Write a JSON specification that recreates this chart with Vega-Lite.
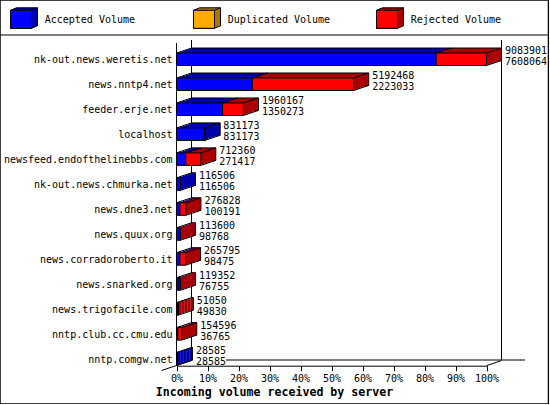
{
"$schema":"https://vega.github.io/schema/vega-lite/v6.json",
"width":548.5,"height":404,"autosize":"none","padding":0,
"background":"white",
"config":{"view":{"stroke":"black","strokeWidth":1.5},"text":{"font":"DejaVu Sans Mono","fontSize":10,"fill":"black"}},
"datasets":{
"servers":[
{"server":"nk-out.news.weretis.net","zero":0,"total":9083901,"accepted":7608064},
{"server":"news.nntp4.net","zero":0,"total":5192468,"accepted":2223033},
{"server":"feeder.erje.net","zero":0,"total":1960167,"accepted":1350273},
{"server":"localhost","zero":0,"total":831173,"accepted":831173},
{"server":"newsfeed.endofthelinebbs.com","zero":0,"total":712360,"accepted":271417},
{"server":"nk-out.news.chmurka.net","zero":0,"total":116506,"accepted":116506},
{"server":"news.dne3.net","zero":0,"total":276828,"accepted":100191},
{"server":"news.quux.org","zero":0,"total":113600,"accepted":98768},
{"server":"news.corradoroberto.it","zero":0,"total":265795,"accepted":98475},
{"server":"news.snarked.org","zero":0,"total":119352,"accepted":76755},
{"server":"news.trigofacile.com","zero":0,"total":51050,"accepted":49830},
{"server":"nntp.club.cc.cmu.edu","zero":0,"total":154596,"accepted":36765},
{"server":"nntp.comgw.net","zero":0,"total":28585,"accepted":28585}
],
"series":[{"series":"Accepted Volume"},{"series":"Duplicated Volume"},{"series":"Rejected Volume"}],
"one":[{"zero":0,"full":9083901}]
},
"resolve":{"scale":{"x":"independent"}},
"layer":[
{
"data":{"name":"servers"},
"encoding":{"y":{"field":"server","type":"nominal","sort":null,
 "scale":{"domain":["nk-out.news.weretis.net","news.nntp4.net","feeder.erje.net","localhost","newsfeed.endofthelinebbs.com","nk-out.news.chmurka.net","news.dne3.net","news.quux.org","news.corradoroberto.it","news.snarked.org","news.trigofacile.com","nntp.club.cc.cmu.edu","nntp.comgw.net"],"range":[46.8,371.3],"paddingInner":0,"paddingOuter":0},
 "axis":{"title":null,"orient":"left","offset":-176.5,"domain":false,"ticks":false,"labelFont":"DejaVu Sans Mono","labelFontSize":10,"labelColor":"black","labelPadding":4.5,"labelLimit":170,"labelOffset":0.7,"grid":false}}},
"layer":[
{"data":{"name":"one"},"mark":{"type":"rule","color":"black","strokeWidth":1,"xOffset":15},
 "encoding":{"y":{"value":40},"y2":{"value":360},
 "x":{"field":"zero","type":"quantitative","scale":{"domain":[0,9083901],"range":[176.5,486.5],"nice":false,"zero":true},
  "axis":{"title":"Incoming volume received by server","titleFont":"DejaVu Sans Mono","titleFontSize":11.6,"titleFontWeight":"bold","titleColor":"black","titleX":274,"titleY":26.5,"titleBaseline":"middle","titleAnchor":"middle","orient":"bottom","offset":-38.3,"values":[0,908390.1,1816780.2,2725170.3,3633560.4,4541950.5,5450340.6,6358730.7,7267120.8,8175510.9,9083901],"labelExpr":"round(datum.value/90839.01)+'%'","labelFont":"DejaVu Sans Mono","labelFontSize":10,"labelColor":"black","labelPadding":2.5,"labelOverlap":false,"labelFlush":false,"tickSize":5,"tickColor":"black","domainColor":"black","grid":false}}}},
{"data":{"name":"one"},"mark":{"type":"rule","color":"black","strokeWidth":1,"xOffset":15},"encoding":{"y":{"value":40},"y2":{"value":360},"x":{"field":"full","type":"quantitative"}}},
{"data":{"name":"one"},"mark":{"type":"rule","color":"black","strokeWidth":1},"encoding":{"y":{"value":43},"y2":{"value":365.7},"x":{"field":"zero","type":"quantitative"}}},
{"data":{"name":"one"},"mark":{"type":"rule","color":"black","strokeWidth":1},"encoding":{"y":{"value":35},"x":{"value":0},"x2":{"value":548}}},
{"data":{"name":"one"},"mark":{"type":"rule","color":"black","strokeWidth":1},"encoding":{"y":{"value":360},"x":{"value":226},"x2":{"value":525}}},
{"data":{"name":"one"},"mark":{"type":"rule","color":"black","strokeWidth":1},"encoding":{"x":{"value":161.5},"x2":{"value":191.5},"y":{"value":370.5},"y2":{"value":360.5}}},
{"data":{"name":"one"},"mark":{"type":"rule","color":"black","strokeWidth":1},"encoding":{"x":{"value":486.5},"x2":{"value":501.5},"y":{"value":365.7},"y2":{"value":360.5}}},

{"mark":{"type":"bar","height":12.5,"xOffset":15,"x2Offset":15,"yOffset":-5,"fill":"#0000aa","stroke":"black","strokeWidth":1},"encoding":{"x":{"field":"zero","type":"quantitative"},"x2":{"field":"accepted"}}},
{"mark":{"type":"bar","height":12.5,"xOffset":15,"x2Offset":15,"yOffset":-5,"fill":"#aa0000","stroke":"black","strokeWidth":1},"encoding":{"x":{"field":"accepted","type":"quantitative"},"x2":{"field":"total"}}},
{"mark":{"type":"bar","height":12.5,"xOffset":12,"x2Offset":12,"yOffset":-4,"fill":"#0000aa"},"encoding":{"x":{"field":"zero","type":"quantitative"},"x2":{"field":"accepted"}}},
{"mark":{"type":"bar","height":12.5,"xOffset":12,"x2Offset":12,"yOffset":-4,"fill":"#aa0000"},"encoding":{"x":{"field":"accepted","type":"quantitative"},"x2":{"field":"total"}}},
{"mark":{"type":"bar","height":12.5,"xOffset":9,"x2Offset":9,"yOffset":-3,"fill":"#0000aa"},"encoding":{"x":{"field":"zero","type":"quantitative"},"x2":{"field":"accepted"}}},
{"mark":{"type":"bar","height":12.5,"xOffset":9,"x2Offset":9,"yOffset":-3,"fill":"#aa0000"},"encoding":{"x":{"field":"accepted","type":"quantitative"},"x2":{"field":"total"}}},
{"mark":{"type":"bar","height":12.5,"xOffset":6,"x2Offset":6,"yOffset":-2,"fill":"#0000aa"},"encoding":{"x":{"field":"zero","type":"quantitative"},"x2":{"field":"accepted"}}},
{"mark":{"type":"bar","height":12.5,"xOffset":6,"x2Offset":6,"yOffset":-2,"fill":"#aa0000"},"encoding":{"x":{"field":"accepted","type":"quantitative"},"x2":{"field":"total"}}},
{"mark":{"type":"bar","height":12.5,"xOffset":3,"x2Offset":3,"yOffset":-1,"fill":"#0000aa"},"encoding":{"x":{"field":"zero","type":"quantitative"},"x2":{"field":"accepted"}}},
{"mark":{"type":"bar","height":12.5,"xOffset":3,"x2Offset":3,"yOffset":-1,"fill":"#aa0000"},"encoding":{"x":{"field":"accepted","type":"quantitative"},"x2":{"field":"total"}}},

{"mark":{"type":"bar","height":12.5,"xOffset":12,"x2Offset":14.5,"yOffset":-5},"encoding":{"x":{"field":"total","type":"quantitative"},"x2":{"field":"total"},"fill":{"condition":{"test":"datum.total>datum.accepted","value":"#aa0000"},"value":"#0000aa"}}},
{"mark":{"type":"bar","height":12.5,"xOffset":9,"x2Offset":12,"yOffset":-4},"encoding":{"x":{"field":"total","type":"quantitative"},"x2":{"field":"total"},"fill":{"condition":{"test":"datum.total>datum.accepted","value":"#aa0000"},"value":"#0000aa"}}},
{"mark":{"type":"bar","height":12.5,"xOffset":6,"x2Offset":9,"yOffset":-3},"encoding":{"x":{"field":"total","type":"quantitative"},"x2":{"field":"total"},"fill":{"condition":{"test":"datum.total>datum.accepted","value":"#aa0000"},"value":"#0000aa"}}},
{"mark":{"type":"bar","height":12.5,"xOffset":3,"x2Offset":6,"yOffset":-2},"encoding":{"x":{"field":"total","type":"quantitative"},"x2":{"field":"total"},"fill":{"condition":{"test":"datum.total>datum.accepted","value":"#aa0000"},"value":"#0000aa"}}},
{"mark":{"type":"bar","height":12.5,"xOffset":0,"x2Offset":3,"yOffset":-1},"encoding":{"x":{"field":"total","type":"quantitative"},"x2":{"field":"total"},"fill":{"condition":{"test":"datum.total>datum.accepted","value":"#aa0000"},"value":"#0000aa"}}},

{"transform":[{"filter":"datum.total>150000"}],"mark":{"type":"rule","color":"black","strokeWidth":1,"yOffset":-6.25,"x2Offset":15,"y2Offset":-11.25},"encoding":{"x":{"field":"total","type":"quantitative"},"x2":{"field":"total"},"y2":{"field":"server"}}},
{"transform":[{"filter":"datum.accepted>150000 && datum.total-datum.accepted>150000"}],"mark":{"type":"rule","color":"black","strokeWidth":1,"yOffset":-6.25,"x2Offset":15,"y2Offset":-11.25},"encoding":{"x":{"field":"accepted","type":"quantitative"},"x2":{"field":"accepted"},"y2":{"field":"server"}}},
{"mark":{"type":"rule","color":"black","strokeWidth":1,"yOffset":6.25,"x2Offset":15,"y2Offset":1.25},"encoding":{"x":{"field":"total","type":"quantitative"},"x2":{"field":"total"},"y2":{"field":"server"}}},
{"mark":{"type":"rule","color":"black","strokeWidth":1,"yOffset":-6.25,"x2Offset":15,"y2Offset":-11.25},"encoding":{"x":{"field":"zero","type":"quantitative"},"x2":{"field":"zero"},"y2":{"field":"server"}}},

{"mark":{"type":"bar","height":12.5,"fill":"#0000ff","stroke":"black","strokeWidth":1},"encoding":{"x":{"field":"zero","type":"quantitative"},"x2":{"field":"accepted"}}},
{"mark":{"type":"bar","height":12.5,"fill":"#ff0000","stroke":"black","strokeWidth":1},"encoding":{"x":{"field":"accepted","type":"quantitative"},"x2":{"field":"total"}}},

{"mark":{"type":"text","align":"left","baseline":"middle","xOffset":18.5,"yOffset":-8.3},"encoding":{"x":{"field":"total","type":"quantitative"},"text":{"field":"total","type":"quantitative","format":"d"}}},
{"mark":{"type":"text","align":"left","baseline":"middle","xOffset":18.5,"yOffset":2.7},"encoding":{"x":{"field":"total","type":"quantitative"},"text":{"field":"accepted","type":"quantitative","format":"d"}}}
]
},
{
"data":{"name":"series"},
"encoding":{"x":{"field":"series","type":"nominal","scale":{"type":"point","padding":0,"domain":["Accepted Volume","Duplicated Volume","Rejected Volume"],"range":[21,387]},"axis":null},"y":{"value":19.3}},
"layer":[
{"mark":{"type":"point","filled":true,"size":4,"stroke":"black","strokeWidth":1,"opacity":1,"shape":"M-10.5 -9L-4.5 -11.5H16.5V6.5L10.5 9H-10.5Z"},
 "encoding":{"fill":{"field":"series","type":"nominal","legend":null,"scale":{"domain":["Accepted Volume","Duplicated Volume","Rejected Volume"],"range":["#0000aa","#aa7700","#aa0000"]}}}},
{"mark":{"type":"point","filled":false,"size":4,"stroke":"black","strokeWidth":1,"opacity":1,"shape":"M10.5 -9L16.5 -11.5"}},
{"mark":{"type":"point","filled":true,"size":4,"stroke":"black","strokeWidth":1,"opacity":1,"shape":"M-10.5 -9H10.5V9H-10.5Z"},
 "encoding":{"color":{"field":"series","type":"nominal","legend":null,"scale":{"domain":["Accepted Volume","Duplicated Volume","Rejected Volume"],"range":["#0000ff","#ffaa00","#ff0000"]}}}},
{"mark":{"type":"text","align":"left","baseline":"middle","xOffset":23.7,"yOffset":1},"encoding":{"text":{"field":"series"}}}
]
}
]
}
